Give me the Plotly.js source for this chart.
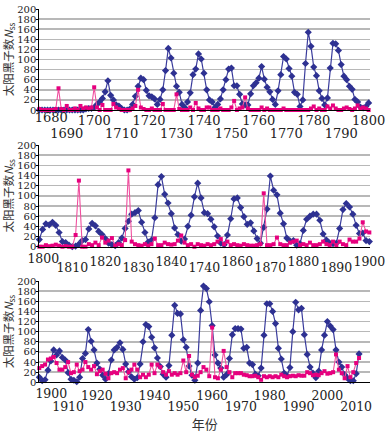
<!DOCTYPE html>
<html><head><meta charset="utf-8">
<script src="https://cdn.plot.ly/plotly-3.0.1.min.js"></script>
<style>html,body{margin:0;padding:0;background:#fff}#chart{width:389px;height:434px}</style>
</head><body><div id="chart"></div>
<script>
// ---------- data ----------
const start1 = 1680, start2 = 1800, start3 = 1900;

// Panel 1: 1680-1800 (annual)
const sunspots1 = [
  0,0,0,0,0,0,0,0,0,0, 0,0,0,0,0,0,0,2,3,3,
  5,11,16,23,36,58,29,20,10,8, 3,0,0,2,11,27,47,63,60,39,
  28,26,22,11,21,40,78,122,103,73, 47,35,11,5,16,34,70,81,111,101,
  73,40,20,16,5,11,22,40,60,81, 83,48,48,31,12,10,10,32,48,54,
  63,86,61,45,36,21,11,38,70,106, 101,82,67,35,31,7,20,92,154,126,
  85,68,38,23,10,24,83,132,131,118, 90,67,60,47,41,21,16,6,4,7,
  14
];
const other1 = [
  2,0,0,0,0,0,2,43,2,0, 8,0,0,3,0,8,3,5,3,5,
  45,5,0,10,0,0,0,12,5,2, 0,0,0,0,3,8,40,5,2,0,
  0,3,0,0,0,12,0,0,0,0, 31,2,0,0,0,5,0,14,3,0,
  0,5,5,0,0,0,3,0,0,0, 5,18,0,3,5,25,3,0,0,0,
  0,5,0,3,0,0,0,0,0,3, 0,0,0,0,0,0,0,0,0,3,
  7,0,3,0,0,7,3,9,3,0, 0,3,5,2,0,3,9,3,5,3,
  0
];

// Panel 2: 1800-1900
const sunspots2 = [
  14,34,45,43,48,42,28,10,8,3, 0,1,5,12,14,35,46,41,30,24,
  16,7,4,2,8,17,36,50,64,67, 71,48,28,9,13,57,122,138,103,86,
  65,37,24,11,15,40,62,98,125,96, 67,65,54,39,21,7,4,23,55,94,
  96,77,59,44,47,31,16,7,38,74, 139,111,102,66,45,17,11,12,3,6,
  32,54,60,64,64,52,25,13,7,6, 7,36,73,85,78,64,42,26,27,12,
  10
];
const other2 = [
  0,0,3,1,2,4,2,0,1,0, 0,23,130,0,0,5,3,8,3,18,
  8,12,17,2,5,3,13,150,10,5, 3,2,5,2,5,16,3,3,8,5,
  4,5,12,22,8,3,5,0,5,3, 2,5,3,5,10,15,5,10,3,5,
  3,2,5,3,2,2,3,5,105,3, 3,5,18,5,3,3,8,10,12,3,
  5,3,8,3,3,5,10,5,3,10, 3,10,5,3,14,10,10,16,48,30,
  28
];

// Panel 3: 1900-2011
const sunspots3 = [
  10,3,5,24,42,64,54,62,49,44, 19,6,4,1,10,47,57,104,81,64,
  38,26,14,6,17,44,64,69,78,65, 36,21,11,6,9,36,80,114,110,89,
  68,48,31,16,10,33,93,152,136,135, 84,69,32,14,4,38,142,190,185,159,
  112,54,38,28,10,15,47,94,106,106, 105,67,69,38,35,16,13,28,93,155,
  155,140,116,67,46,18,13,29,100,158, 143,146,94,55,30,18,9,22,64,93,
  120,111,104,64,40,30,15,8,3,3, 17,56
];
const other3 = [
  28,32,35,45,47,50,38,25,25,30, 40,18,20,35,22,25,40,30,25,32,
  16,22,25,17,8,18,20,18,25,28, 8,20,25,35,25,10,15,10,15,35,
  18,35,30,20,15,22,15,18,15,18, 43,20,52,15,10,13,20,30,25,12,
  108,10,8,25,62,30,20,10,18,18, 18,15,14,12,12,13,10,5,12,10,
  12,10,12,10,15,12,10,12,13,12, 14,13,13,20,18,14,15,14,18,22,
  17,18,20,55,25,18,8,32,10,20, 38,48
];

// tick labels (two staggered rows per panel)
const p1Row1Vals = [1680,1700,1720,1740,1760,1780,1800];
const p1Row1Text = ['1680','1700','1720','1740','1760','1780','1800'];
const p1Row2Vals = [1690,1710,1730,1750,1770,1790];
const p1Row2Text = ['1690','1710','1730','1750','1770','1790'];
const p2Row1Vals = [1800,1820,1840,1860,1880,1900];
const p2Row1Text = ['1800','1820','1840','1860','1880','1900'];
const p2Row2Vals = [1810,1830,1850,1870,1890];
const p2Row2Text = ['1810','1830','1740','1870','1890'];
const p3Row1Vals = [1900,1920,1940,1960,1980,2000];
const p3Row1Text = ['1900','1920','1940','1960','1980','2000'];
const p3Row2Vals = [1910,1930,1950,1970,1990,2010];
const p3Row2Text = ['1910','1930','1950','1970','1990','2010'];

const yTitle = '太阳黑子数<i>N</i><sub>ss</sub>';
const xTitle = '年份';

// ---------- drawing ----------
const W = 389, H = 434;
const NUM_FONT = 'DejaVu Serif, Liberation Serif, serif';
const CJK_FONT = 'Noto Sans CJK SC, sans-serif';
const BLUE = '#2E3192', BLUE_LINE = '#3A3C9C';
const MAG = '#E6007E', MAG_LINE = '#F0509F';
const xDom = [39.3 / W, 370 / W];

const panels = [
  {start: start1, sun: sunspots1, oth: other1, xr: [1680, 1800.5], top: 9, bot: 110, fs: 13,
   r1v: p1Row1Vals, r1t: p1Row1Text, r2v: p1Row2Vals, r2t: p1Row2Text, shift: 12, so1: -2, so2: 14},
  {start: start2, sun: sunspots2, oth: other2, xr: [1800, 1900.2], top: 145, bot: 246.7, fs: 12.5,
   r1v: p2Row1Vals, r1t: p2Row1Text, r2v: p2Row2Vals, r2t: p2Row2Text, shift: 4, so1: 3, so2: 12},
  {start: start3, sun: sunspots3, oth: other3, xr: [1900, 2014.8], top: 281, bot: 382.3, fs: 12.5,
   r1v: p3Row1Vals, r1t: p3Row1Text, r2v: p3Row2Vals, r2t: p3Row2Text, shift: 12, so1: 2, so2: 15}
];

const traces = [];
const layout = {
  width: W, height: H, autosize: false,
  margin: {l: 0, r: 0, t: 0, b: 0},
  paper_bgcolor: '#fff', plot_bgcolor: '#fff',
  showlegend: false,
  font: {family: NUM_FONT, color: '#222'}
};

panels.forEach((p, i) => {
  const n = i + 1;
  const xs = p.sun.map((_, k) => p.start + k);
  const xo = p.oth.map((_, k) => p.start + k);
  const xa = n === 1 ? 'x' : 'x' + n;
  const ya = n === 1 ? 'y' : 'y' + n;
  traces.push({
    x: xs, y: p.sun, xaxis: xa, yaxis: ya, type: 'scatter', mode: 'lines+markers',
    cliponaxis: false,
    line: {color: BLUE_LINE, width: 1.2},
    marker: {symbol: 'diamond', size: 5.5, color: BLUE}
  });
  traces.push({
    x: xo, y: p.oth, xaxis: xa, yaxis: ya, type: 'scatter', mode: 'lines+markers',
    cliponaxis: false,
    line: {color: MAG_LINE, width: 1.1},
    marker: {symbol: 'square', size: 4, color: MAG}
  });
  // empty helper traces so the overlaid label axes get drawn (no marks)
  traces.push({x: [], y: [], xaxis: 'x' + (n + 3), yaxis: ya, type: 'scatter', mode: 'markers', hoverinfo: 'skip'});
  traces.push({x: [], y: [], xaxis: 'x' + (n + 6), yaxis: ya, type: 'scatter', mode: 'markers', hoverinfo: 'skip'});

  const yDom = [1 - p.bot / H, 1 - p.top / H];
  const base = {
    domain: xDom, range: p.xr, anchor: ya, automargin: false,
    showgrid: false, zeroline: false, fixedrange: true, ticklen: 0,
    tickfont: {family: NUM_FONT, size: p.fs, color: '#222'}
  };
  layout['xaxis' + (n === 1 ? '' : n)] = Object.assign({}, base, {
    showline: true, linecolor: '#000', linewidth: 1, ticks: '',
    tickmode: 'array', tickvals: p.r1v.slice(1), ticktext: p.r1t.slice(1),
    ticklabelstandoff: p.so1
  });
  const row2 = Object.assign({}, base, {
    overlaying: xa, showline: false, ticks: '',
    tickmode: 'array', tickvals: p.r2v, ticktext: p.r2t,
    ticklabelstandoff: p.so2
  });
  if (n === 3) {
    row2.title = {text: xTitle, font: {family: CJK_FONT, size: 13, color: '#333'}, standoff: 3};
  }
  layout['xaxis' + (n + 3)] = row2;
  layout['xaxis' + (n + 6)] = Object.assign({}, base, {
    overlaying: xa, showline: false, ticks: '',
    tickmode: 'array', tickvals: [p.r1v[0]], ticktext: [p.r1t[0]],
    ticklabelstandoff: p.so1, ticklabelshift: p.shift
  });
  layout['yaxis' + (n === 1 ? '' : n)] = {
    domain: yDom, range: [0, 200], anchor: xa, automargin: false, fixedrange: true,
    tickmode: 'linear', tick0: 0, dtick: 20,
    showgrid: true, gridcolor: '#b8b8b8', gridwidth: 1.5,
    zeroline: false, showline: true, linecolor: '#000', linewidth: 1,
    ticks: 'outside', ticklen: 2, tickcolor: '#000', ticklabelstandoff: -2,
    tickfont: {family: NUM_FONT, size: 10, color: '#222'},
    title: {text: yTitle, font: {family: CJK_FONT, size: 11.5, color: '#333'}, standoff: 1}
  };
});

Plotly.newPlot('chart', traces, layout, {displayModeBar: false, staticPlot: true});
</script>
</body></html>
